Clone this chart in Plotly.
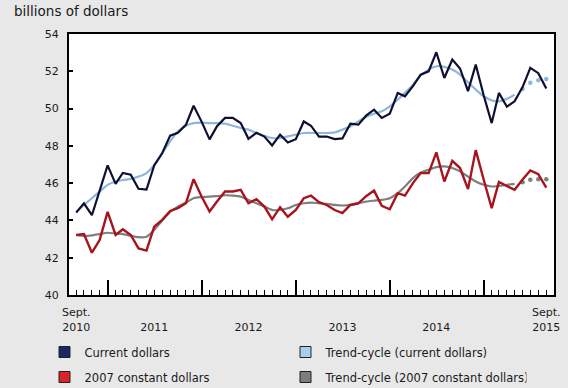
import pandas as pd
import plotly.graph_objects as go

months = pd.date_range("2010-09-01", "2015-09-01", freq="MS")

current_dollars = [
    44.42, 44.92, 44.28, 45.60, 46.95, 45.96, 46.55, 46.45, 45.70, 45.65,
    46.95, 47.60, 48.55, 48.70, 49.13, 50.15, 49.30, 48.35, 49.05, 49.50,
    49.50, 49.22, 48.38, 48.70, 48.50, 48.02, 48.60, 48.18, 48.36, 49.31,
    49.08, 48.50, 48.50, 48.36, 48.40, 49.19, 49.14, 49.62, 49.94, 49.50,
    49.73, 50.84, 50.66, 51.20, 51.82, 52.00, 53.02, 51.64, 52.63, 52.15,
    50.93, 52.36, 50.70, 49.22, 50.84, 50.10, 50.39, 51.15, 52.18, 51.90,
    51.07,
]
constant_2007 = [
    43.22, 43.27, 42.27, 42.95, 44.46, 43.22, 43.53, 43.22, 42.50, 42.38,
    43.67, 44.03, 44.51, 44.66, 44.92, 46.21, 45.28, 44.48, 45.01, 45.55,
    45.55, 45.64, 44.92, 45.14, 44.74, 44.06, 44.71, 44.20, 44.56, 45.19,
    45.33, 44.98, 44.83, 44.56, 44.39, 44.83, 44.92, 45.30, 45.60, 44.78,
    44.60, 45.46, 45.33, 46.00, 46.54, 46.54, 47.65, 46.09, 47.20, 46.81,
    45.68, 47.77, 46.18, 44.66, 46.06, 45.84, 45.64, 46.20, 46.68, 46.48,
    45.76,
]
trend_current = [
    44.47, 44.83, 45.19, 45.55, 45.91, 46.09, 46.17, 46.23, 46.35, 46.54,
    46.98, 47.61, 48.24, 48.77, 49.08, 49.22, 49.25, 49.22, 49.22, 49.19,
    49.08, 48.96, 48.87, 48.69, 48.54, 48.42, 48.42, 48.51, 48.60, 48.69,
    48.69, 48.69, 48.69, 48.72, 48.87, 49.04, 49.31, 49.55, 49.72, 49.85,
    50.12, 50.48, 50.84, 51.28, 51.77, 52.09, 52.27, 52.24, 52.09, 51.82,
    51.41, 51.02, 50.66, 50.44, 50.39, 50.52, 50.75, 51.05, 51.38, 51.52,
    51.59,
]
trend_constant = [
    43.22, 43.17, 43.20, 43.27, 43.34, 43.30, 43.27, 43.17, 43.10, 43.13,
    43.49, 43.99, 44.46, 44.74, 44.96, 45.19, 45.25, 45.28, 45.30, 45.35,
    45.33, 45.28, 45.10, 44.92, 44.74, 44.56, 44.56, 44.65, 44.83, 44.92,
    44.96, 44.92, 44.89, 44.83, 44.80, 44.83, 44.92, 45.01, 45.06, 45.10,
    45.19, 45.46, 45.82, 46.27, 46.57, 46.72, 46.86, 46.90, 46.81, 46.63,
    46.35, 46.09, 45.91, 45.82, 45.85, 45.91, 45.96, 46.05, 46.18, 46.21,
    46.21,
]
n_solid_trend = 57  # trend-cycle drawn solid up to this month, dotted after

tick_dates = ["2010-09-01", "2011-07-01", "2012-07-01", "2013-07-01", "2014-07-01", "2015-09-01"]
tick_labels = ["Sept.<br>2010", "\u00a0<br>2011", "\u00a0<br>2012", "\u00a0<br>2013", "\u00a0<br>2014", "Sept.<br>2015"]
y_ticks = [40, 42, 44, 46, 48, 50, 52, 54]
month_ticks = [d.strftime("%Y-%m-%d") for d in months]
january_ticks = [d.strftime("%Y-%m-%d") for d in months if d.month == 1]

series_names = ["Current dollars", "Trend-cycle (current dollars)",
                "2007 constant dollars", "Trend-cycle (2007 constant dollars)"]
swatch_colors = ["#1c2566", "#a9cdef", "#d8232a", "#7d7d7d"]

COL_CUR = "#0e1030"
COL_TCUR = "#8fb6dc"
COL_CON = "#a8141e"
COL_TCON = "#7f7f7f"
FONT = "DejaVu Sans"
W, H = 568, 388

fig = go.Figure()

fig.add_trace(go.Scatter(x=months[:n_solid_trend], y=trend_current[:n_solid_trend], mode="lines",
                         line=dict(color=COL_TCUR, width=2.2, shape="spline", smoothing=0.6),
                         showlegend=False))
fig.add_trace(go.Scatter(x=months[n_solid_trend:], y=trend_current[n_solid_trend:], mode="markers",
                         marker=dict(color=COL_TCUR, size=4.5), showlegend=False))
fig.add_trace(go.Scatter(x=months[:n_solid_trend], y=trend_constant[:n_solid_trend], mode="lines",
                         line=dict(color=COL_TCON, width=2.2, shape="spline", smoothing=0.6),
                         showlegend=False))
fig.add_trace(go.Scatter(x=months[n_solid_trend:], y=trend_constant[n_solid_trend:], mode="markers",
                         marker=dict(color=COL_TCON, size=4.5), showlegend=False))
fig.add_trace(go.Scatter(x=months, y=current_dollars, mode="lines",
                         line=dict(color=COL_CUR, width=2.2), showlegend=False))
fig.add_trace(go.Scatter(x=months, y=constant_2007, mode="lines",
                         line=dict(color=COL_CON, width=2.4), showlegend=False))

# legend entries (square swatches); attached to the tick-only axes x2 / x3
for k, (name, col) in enumerate(zip(series_names, swatch_colors)):
    fig.add_trace(go.Scatter(x=[None], y=[None], mode="markers", name=name,
                             xaxis="x2" if k % 2 == 0 else "x3",
                             marker=dict(symbol="square", size=11, color=col,
                                         line=dict(color="#222222", width=1)),
                             legend="legend" if k < 2 else "legend2"))

x_range = ["2010-08-04", "2015-10-01"]

legend_common = dict(orientation="h", xanchor="left", yanchor="middle",
                     xref="container", yref="container",
                     bgcolor="rgba(0,0,0,0)", borderwidth=0,
                     font=dict(family=FONT, size=11.5, color="#1a1a1a"),
                     entrywidth=196, entrywidthmode="pixels", itemwidth=30)

tick_axis_common = dict(type="date", range=x_range, overlaying="x", anchor="y", side="bottom",
                        tickmode="array", ticks="inside", tickcolor="#000000",
                        showticklabels=False, showgrid=False, zeroline=False, showline=False)

fig.update_layout(
    width=W, height=H,
    margin=dict(l=69, r=14, t=34, b=93, autoexpand=False),
    paper_bgcolor="#e8e8e8",
    plot_bgcolor="#ffffff",
    font=dict(family=FONT, size=11, color="#1a1a1a"),
    title=dict(text="billions of dollars", xref="container", yref="container",
               x=14 / W, xanchor="left", y=1 - 11 / H,
               yanchor="middle", font=dict(family=FONT, size=13.5, color="#1a1a1a")),
    xaxis=dict(type="date", range=x_range, tickmode="array", tickvals=tick_dates, ticktext=tick_labels,
               ticks="", showgrid=False, zeroline=False, showline=True, linecolor="#000000",
               linewidth=2, mirror=True, ticklabelstandoff=6, ticklabeloverflow="allow",
               tickfont=dict(family=FONT, size=11, color="#1a1a1a")),
    xaxis2=dict(tickvals=month_ticks, ticklen=5, tickwidth=1.2, **tick_axis_common),
    xaxis3=dict(tickvals=january_ticks, ticklen=15, tickwidth=1.5, **tick_axis_common),
    yaxis=dict(range=[40, 54], tickmode="array", tickvals=y_ticks,
               ticks="inside", ticklen=4, tickwidth=1.5, tickcolor="#000000",
               showgrid=False, zeroline=False, showline=True, linecolor="#000000",
               linewidth=2, mirror=True, ticklabelstandoff=6,
               tickfont=dict(family=FONT, size=11, color="#1a1a1a")),
    legend=dict(x=44.5 / W, y=1 - 352 / H, **legend_common),
    legend2=dict(x=44.5 / W, y=1 - 377 / H, **legend_common),
)

fig.write_html("out.html", config={"displayModeBar": False},
               post_script="document.body.style.margin='0px';")
